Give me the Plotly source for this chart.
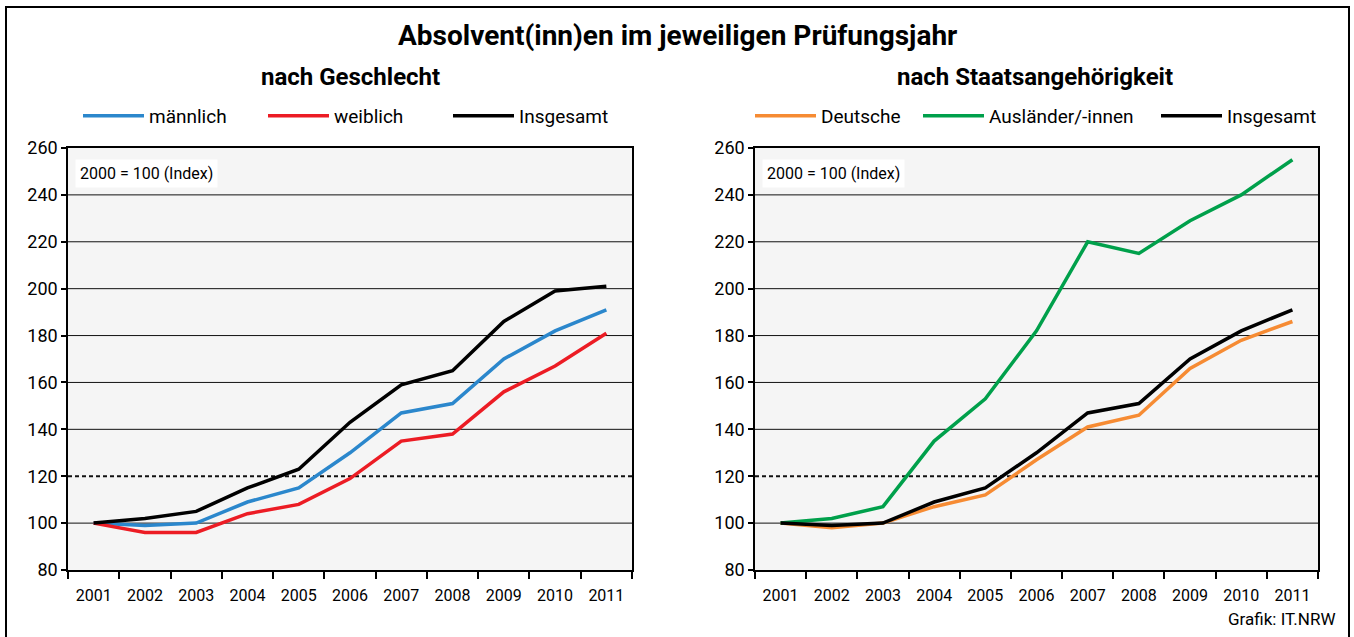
import plotly.graph_objects as go

# ---------------- data ----------------
years = ["2001", "2002", "2003", "2004", "2005", "2006", "2007", "2008", "2009", "2010", "2011"]

maennlich = [100, 99, 100, 109, 115, 130, 147, 151, 170, 182, 191]
weiblich = [100, 96, 96, 104, 108, 119, 135, 138, 156, 167, 181]
insgesamt_g = [100, 102, 105, 115, 123, 143, 159, 165, 186, 199, 201]

deutsche = [100, 98, 100, 107, 112, 127, 141, 146, 166, 178, 186]
auslaender = [100, 102, 107, 135, 153, 182, 220, 215, 229, 240, 255]
insgesamt_s = [100, 99, 100, 109, 115, 130, 147, 151, 170, 182, 191]

grid_values = [100, 120, 140, 160, 180, 200, 220, 240]
dashed_value = 120

# ---------------- layout helpers ----------------
W, H = 1354, 637
FONT = "Roboto"


def px(x):
    return x / W


def py(y):
    return 1 - y / H


fig = go.Figure()

# (values, name, colour, x axis, y axis, legend id, legend line start in px)
series = [
    (maennlich, "männlich", "#2b87cc", "x", "y", "legend", 85),
    (weiblich, "weiblich", "#ec1c24", "x", "y", "legend2", 270),
    (insgesamt_g, "Insgesamt", "#000000", "x", "y", "legend3", 455),
    (deutsche, "Deutsche", "#f68b33", "x2", "y2", "legend4", 757),
    (auslaender, "Ausländer/-innen", "#00a04b", "x2", "y2", "legend5", 925),
    (insgesamt_s, "Insgesamt", "#000000", "x2", "y2", "legend6", 1163),
]

legends = {}
for vals, name, color, xa, ya, lg, lx in series:
    fig.add_trace(go.Scatter(
        x=years, y=vals, mode="lines", name=name,
        line=dict(color=color, width=3.5),
        xaxis=xa, yaxis=ya, legend=lg, hoverinfo="x+y+name",
    ))
    legends[lg] = dict(
        orientation="h", x=px(lx - 7), xanchor="left", y=py(116), yanchor="middle",
        font=dict(family=FONT, size=19, color="black"), itemwidth=61,
        bgcolor="rgba(0,0,0,0)", borderwidth=0,
    )

xaxis_common = dict(
    type="category", tickson="boundaries", ticks="outside", ticklen=7,
    tickcolor="black", tickwidth=1.5, showline=True, linecolor="black", linewidth=1.5,
    mirror=True, showgrid=False, zeroline=False, range=[-0.5, 10.5],
    ticklabelstandoff=10, automargin=False,
    tickfont=dict(family=FONT, size=16, color="black"), fixedrange=True,
)
yaxis_common = dict(
    range=[80, 260], dtick=20, ticks="outside", ticklen=5, tickcolor="black",
    tickwidth=1.5, showline=True, linecolor="black", linewidth=1.5, mirror=True,
    showgrid=False, zeroline=False, automargin=False,
    tickfont=dict(family=FONT, size=18, color="black"), fixedrange=True,
    domain=[py(570), py(148)],
)

fig.update_layout(
    width=W, height=H,
    margin=dict(l=0, r=0, t=0, b=0, autoexpand=False),
    paper_bgcolor="white", plot_bgcolor="#f5f5f5",
    font=dict(family=FONT, color="black"),
    xaxis=dict(xaxis_common, domain=[px(68), px(632)], anchor="y"),
    yaxis=dict(yaxis_common, anchor="x"),
    xaxis2=dict(xaxis_common, domain=[px(755), px(1318)], anchor="y2"),
    yaxis2=dict(yaxis_common, anchor="x2"),
    showlegend=True,
    **legends,
)

# grid lines (one dashed) and index label
for xr, yr in (("x", "y"), ("x2", "y2")):
    for v in grid_values:
        fig.add_shape(
            type="line", xref=xr + " domain", yref=yr, x0=0, x1=1, y0=v, y1=v,
            line=dict(color="#111111", width=2 if v == dashed_value else 1,
                      dash="4px,3px" if v == dashed_value else "solid"),
            layer="below",
        )
    fig.add_annotation(
        xref=xr + " domain", yref=yr + " domain", x=0.012, y=0.975,
        xanchor="left", yanchor="top", text="2000 = 100 (Index)", showarrow=False,
        bgcolor="white", borderpad=4, font=dict(family=FONT, size=16, color="black"),
    )

# outer frame
fig.add_shape(type="rect", xref="paper", yref="paper", x0=px(6), x1=px(1349),
              y0=-0.02, y1=py(7), line=dict(color="black", width=2), layer="below")

# titles
fig.add_annotation(xref="paper", yref="paper", x=px(677), y=py(35), xanchor="center", yanchor="middle",
                   text="<b>Absolvent(inn)en im jeweiligen Prüfungsjahr</b>",
                   showarrow=False, font=dict(family=FONT, size=28, color="black"))
fig.add_annotation(xref="paper", yref="paper", x=px(350), y=py(77), xanchor="center", yanchor="middle",
                   text="<b>nach Geschlecht</b>",
                   showarrow=False, font=dict(family=FONT, size=24, color="black"))
fig.add_annotation(xref="paper", yref="paper", x=px(1035), y=py(77), xanchor="center", yanchor="middle",
                   text="<b>nach Staatsangehörigkeit</b>",
                   showarrow=False, font=dict(family=FONT, size=24, color="black"))
fig.add_annotation(xref="paper", yref="paper", x=px(1338), y=py(619), xanchor="right", yanchor="middle",
                   text="Grafik: IT.NRW", showarrow=False, font=dict(family=FONT, size=17, color="black"))

fig.write_html("out.html", config={"displayModeBar": False},
               post_script="document.body.style.margin = '0px';")
